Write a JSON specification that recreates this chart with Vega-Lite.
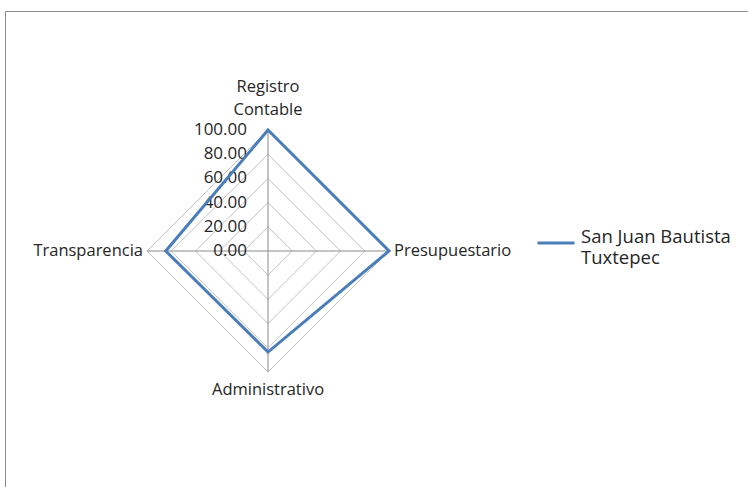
{
  "$schema": "https://vega.github.io/schema/vega-lite/v6.json",
  "width": 745,
  "height": 480,
  "autosize": {"type": "none"},
  "padding": {"left": 5, "top": 11, "right": 0, "bottom": 0},
  "background": "white",
  "config": {
    "view": {"stroke": "#8c8c8c", "strokeWidth": 1},
    "font": "Open Sans",
    "text": {"font": "Open Sans", "fontSize": 16.5, "fill": "#262626"}
  },
  "datasets": {
    "cats": [
      {"cat": "Registro Contable", "order": 0, "value": 100},
      {"cat": "Presupuestario", "order": 1, "value": 100},
      {"cat": "Administrativo", "order": 2, "value": 100},
      {"cat": "Transparencia", "order": 3, "value": 100}
    ],
    "series": [
      {"series": "San Juan Bautista Tuxtepec", "cat": "Registro Contable", "order": 0, "value": 100},
      {"series": "San Juan Bautista Tuxtepec", "cat": "Presupuestario", "order": 1, "value": 100},
      {"series": "San Juan Bautista Tuxtepec", "cat": "Administrativo", "order": 2, "value": 83.5},
      {"series": "San Juan Bautista Tuxtepec", "cat": "Transparencia", "order": 3, "value": 84.5}
    ],
    "grid": [
      {"level": 20, "order": 0}, {"level": 20, "order": 1}, {"level": 20, "order": 2}, {"level": 20, "order": 3},
      {"level": 40, "order": 0}, {"level": 40, "order": 1}, {"level": 40, "order": 2}, {"level": 40, "order": 3},
      {"level": 60, "order": 0}, {"level": 60, "order": 1}, {"level": 60, "order": 2}, {"level": 60, "order": 3},
      {"level": 80, "order": 0}, {"level": 80, "order": 1}, {"level": 80, "order": 2}, {"level": 80, "order": 3},
      {"level": 100, "order": 0}, {"level": 100, "order": 1}, {"level": 100, "order": 2}, {"level": 100, "order": 3}
    ],
    "ticks": [
      {"level": 0}, {"level": 20}, {"level": 40}, {"level": 60}, {"level": 80}, {"level": 100}
    ]
  },
  "resolve": {"scale": {"x": "shared", "y": "shared"}},
  "layer": [
    {
      "data": {"name": "grid"},
      "transform": [
        {"calculate": "datum.level * sin(datum.order * PI / 2)", "as": "px"},
        {"calculate": "datum.level * cos(datum.order * PI / 2)", "as": "py"}
      ],
      "mark": {"type": "line", "interpolate": "linear-closed", "stroke": "#c3c3c3", "strokeWidth": 1},
      "encoding": {
        "x": {"field": "px", "type": "quantitative", "scale": {"domain": [-217.36, 398.34], "nice": false, "zero": false}, "axis": null},
        "y": {"field": "py", "type": "quantitative", "scale": {"domain": [-198.35, 198.35], "nice": false, "zero": false}, "axis": null},
        "detail": {"field": "level", "type": "nominal"},
        "order": {"field": "order", "type": "quantitative"}
      }
    },
    {
      "data": {"name": "cats"},
      "transform": [
        {"calculate": "datum.value * sin(datum.order * PI / 2)", "as": "px"},
        {"calculate": "datum.value * cos(datum.order * PI / 2)", "as": "py"},
        {"calculate": "0", "as": "cx"}
      ],
      "mark": {"type": "rule", "stroke": "#8a8a8a", "strokeWidth": 1},
      "encoding": {
        "x": {"field": "cx", "type": "quantitative"},
        "y": {"field": "cx", "type": "quantitative"},
        "x2": {"field": "px"},
        "y2": {"field": "py"}
      }
    },
    {
      "data": {"name": "ticks"},
      "transform": [{"calculate": "0", "as": "cx"}],
      "mark": {"type": "text", "align": "right", "baseline": "middle", "dx": -21, "fontSize": 17},
      "encoding": {
        "x": {"field": "cx", "type": "quantitative"},
        "y": {"field": "level", "type": "quantitative"},
        "text": {"field": "level", "type": "quantitative", "format": ".2f"}
      }
    },
    {
      "data": {"name": "series"},
      "transform": [
        {"calculate": "datum.value * sin(datum.order * PI / 2)", "as": "px"},
        {"calculate": "datum.value * cos(datum.order * PI / 2)", "as": "py"}
      ],
      "mark": {"type": "line", "interpolate": "linear-closed", "strokeWidth": 3, "strokeJoin": "miter"},
      "encoding": {
        "x": {"field": "px", "type": "quantitative"},
        "y": {"field": "py", "type": "quantitative"},
        "order": {"field": "order", "type": "quantitative"},
        "color": {
          "field": "series", "type": "nominal",
          "scale": {"range": ["#4a7ebb"]},
          "legend": {
            "title": null,
            "orient": "none",
            "legendX": 531,
            "legendY": 212,
            "symbolType": "stroke",
            "symbolSize": 1369,
            "symbolStrokeWidth": 3,
            "labelFont": "Open Sans",
            "labelFontSize": 18.5,
            "labelColor": "#262626",
            "labelOffset": 5,
            "labelLimit": 300,
            "labelBaseline": "alphabetic",
            "labelExpr": "['San Juan Bautista', 'Tuxtepec']"
          }
        }
      }
    },
    {
      "data": {"name": "cats"},
      "transform": [{"filter": "datum.order === 0"}, {"calculate": "0", "as": "px"}],
      "mark": {"type": "text", "align": "center", "baseline": "top", "dy": -51, "lineBreak": " ", "lineHeight": 23},
      "encoding": {
        "x": {"field": "px", "type": "quantitative"},
        "y": {"field": "value", "type": "quantitative"},
        "text": {"field": "cat"}
      }
    },
    {
      "data": {"name": "cats"},
      "transform": [{"filter": "datum.order === 1"}, {"calculate": "0", "as": "py"}],
      "mark": {"type": "text", "align": "left", "baseline": "middle", "dx": 5},
      "encoding": {
        "x": {"field": "value", "type": "quantitative"},
        "y": {"field": "py", "type": "quantitative"},
        "text": {"field": "cat"}
      }
    },
    {
      "data": {"name": "cats"},
      "transform": [{"filter": "datum.order === 2"}, {"calculate": "0", "as": "px"}, {"calculate": "-datum.value", "as": "py"}],
      "mark": {"type": "text", "align": "center", "baseline": "middle", "dy": 18},
      "encoding": {
        "x": {"field": "px", "type": "quantitative"},
        "y": {"field": "py", "type": "quantitative"},
        "text": {"field": "cat"}
      }
    },
    {
      "data": {"name": "cats"},
      "transform": [{"filter": "datum.order === 3"}, {"calculate": "-datum.value", "as": "px"}, {"calculate": "0", "as": "py"}],
      "mark": {"type": "text", "align": "right", "baseline": "middle", "dx": -4},
      "encoding": {
        "x": {"field": "px", "type": "quantitative"},
        "y": {"field": "py", "type": "quantitative"},
        "text": {"field": "cat"}
      }
    }
  ]
}
